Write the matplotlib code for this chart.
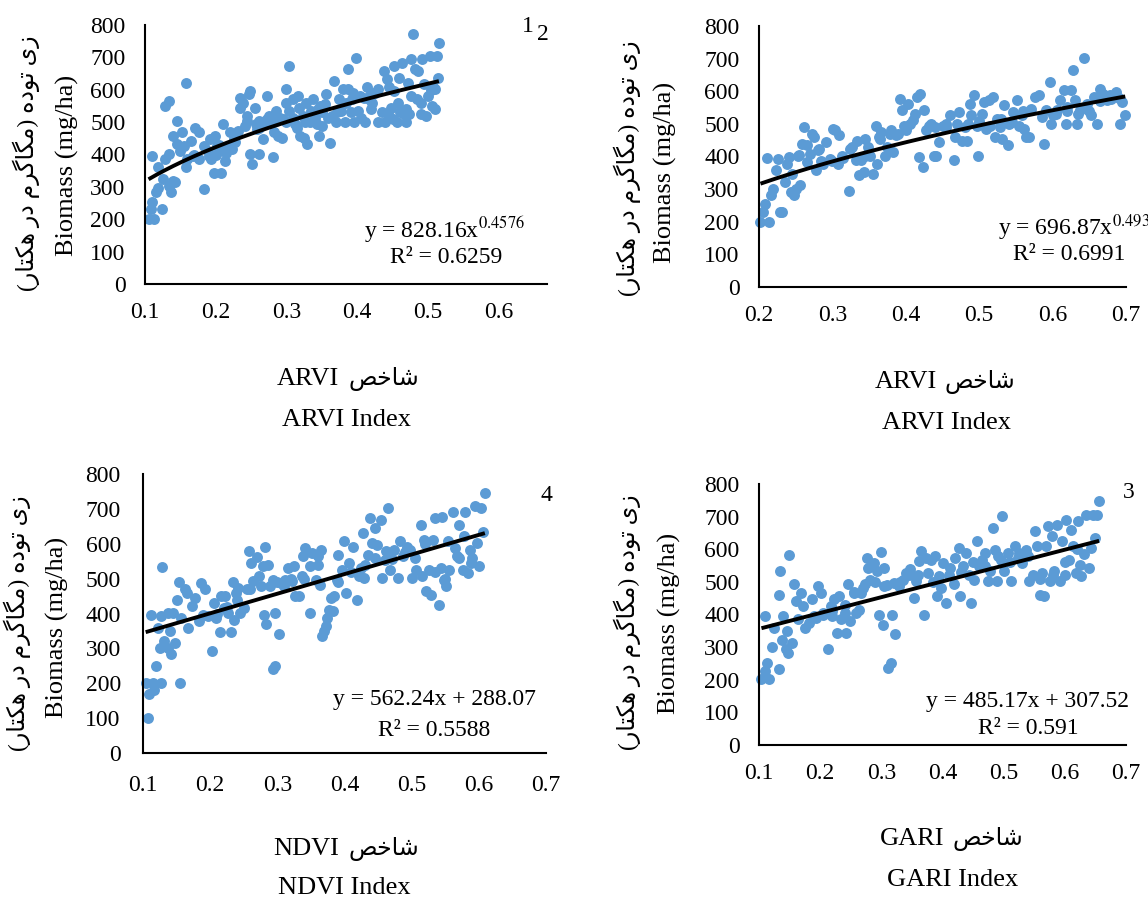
import numpy as np
import matplotlib
matplotlib.use("Agg")
import matplotlib.pyplot as plt

# ---------------- data ----------------
arvi1_x = [0.105, 0.113, 0.108, 0.110, 0.116, 0.118, 0.124, 0.110, 0.118, 0.126, 0.129, 0.134, 0.134, 0.137,
           0.139, 0.142, 0.129, 0.134, 0.139, 0.145, 0.145, 0.150, 0.152, 0.155, 0.158, 0.158, 0.160, 0.165,
           0.168, 0.171, 0.176, 0.176, 0.184, 0.184, 0.189, 0.192, 0.194, 0.197, 0.199, 0.202, 0.207, 0.210,
           0.213, 0.215, 0.218, 0.223, 0.226, 0.231, 0.234, 0.235, 0.239, 0.241, 0.244, 0.247, 0.249, 0.249,
           0.252, 0.255, 0.257, 0.262, 0.262, 0.267, 0.273, 0.275, 0.281, 0.283, 0.286, 0.288, 0.294, 0.296,
           0.299, 0.299, 0.304, 0.304, 0.309, 0.312, 0.315, 0.317, 0.320, 0.323, 0.325, 0.328, 0.330, 0.333,
           0.335, 0.338, 0.343, 0.346, 0.348, 0.351, 0.356, 0.359, 0.362, 0.367, 0.370, 0.375, 0.377, 0.380,
           0.383, 0.388, 0.388, 0.391, 0.393, 0.396, 0.398, 0.401, 0.404, 0.406, 0.412, 0.414, 0.417, 0.422,
           0.425, 0.430, 0.430, 0.435, 0.438, 0.440, 0.443, 0.446, 0.448, 0.451, 0.453, 0.456, 0.459, 0.461,
           0.464, 0.466, 0.469, 0.472, 0.474, 0.477, 0.477, 0.480, 0.482, 0.485, 0.487, 0.490, 0.492, 0.495,
           0.498, 0.500, 0.503, 0.506, 0.508, 0.511, 0.514, 0.515, 0.516, 0.511, 0.262, 0.273, 0.281, 0.291,
           0.309, 0.340, 0.351, 0.365, 0.420, 0.452, 0.200, 0.205, 0.220, 0.228, 0.245, 0.258, 0.268, 0.285,
           0.300, 0.318, 0.327, 0.345, 0.355, 0.372, 0.385, 0.395, 0.410, 0.420, 0.445, 0.458, 0.470, 0.490,
           0.505, 0.170, 0.190, 0.210]
arvi1_y = [200, 200, 231, 252, 283, 298, 231, 396, 360, 324, 550, 566, 303, 283,
           319, 314, 386, 401, 458, 504, 432, 411, 468, 427, 622, 360, 386, 442,
           396, 483, 468, 386, 293, 427, 411, 447, 386, 344, 458, 427, 344, 494,
           380, 406, 427, 416, 447, 473, 576, 545, 560, 488, 504, 586, 596, 401,
           370, 545, 494, 504, 401, 447, 581, 519, 391, 468, 535, 458, 452, 509,
           560, 601, 673, 535, 571, 494, 483, 581, 458, 519, 452, 560, 432, 499,
           535, 571, 494, 458, 550, 530, 586, 514, 437, 627, 499, 571, 535, 601,
           499, 663, 601, 530, 571, 499, 699, 535, 581, 514, 499, 607, 571, 560,
           591, 601, 499, 530, 658, 499, 632, 607, 545, 509, 673, 499, 637, 530,
           684, 525, 499, 622, 525, 694, 581, 771, 663, 571, 658, 525, 694, 617,
           519, 581, 704, 550, 607, 540, 704, 637, 745, 601, 483, 509, 499, 514,
           514, 514, 488, 520, 590, 595, 400, 430, 470, 440, 520, 480, 500, 505,
           500, 545, 500, 540, 555, 530, 560, 590, 575, 540, 520, 560, 540, 560,
           600, 400, 395, 415]

arvi2_x = [0.202, 0.213, 0.205, 0.208, 0.216, 0.219, 0.211, 0.223, 0.226, 0.228, 0.231, 0.236, 0.238, 0.241,
           0.243, 0.248, 0.250, 0.253, 0.256, 0.245, 0.258, 0.261, 0.265, 0.266, 0.270, 0.272, 0.275, 0.277,
           0.280, 0.282, 0.287, 0.291, 0.297, 0.301, 0.304, 0.308, 0.309, 0.313, 0.322, 0.324, 0.327, 0.332,
           0.333, 0.336, 0.339, 0.343, 0.344, 0.349, 0.351, 0.355, 0.359, 0.361, 0.364, 0.366, 0.371, 0.374,
           0.378, 0.382, 0.386, 0.390, 0.392, 0.395, 0.398, 0.403, 0.406, 0.410, 0.413, 0.415, 0.418, 0.420,
           0.423, 0.425, 0.428, 0.431, 0.435, 0.438, 0.441, 0.445, 0.450, 0.455, 0.460, 0.465, 0.467, 0.472,
           0.476, 0.480, 0.484, 0.487, 0.489, 0.493, 0.497, 0.499, 0.504, 0.507, 0.509, 0.514, 0.519, 0.521,
           0.524, 0.529, 0.531, 0.534, 0.539, 0.541, 0.546, 0.551, 0.554, 0.558, 0.561, 0.564, 0.568, 0.571,
           0.576, 0.581, 0.588, 0.591, 0.596, 0.598, 0.600, 0.606, 0.610, 0.615, 0.618, 0.620, 0.625, 0.628,
           0.630, 0.633, 0.637, 0.643, 0.647, 0.652, 0.657, 0.661, 0.664, 0.669, 0.674, 0.678, 0.686, 0.692,
           0.694, 0.699, 0.255, 0.285, 0.300, 0.315, 0.345, 0.365, 0.380, 0.400, 0.440, 0.455, 0.470, 0.485,
           0.500, 0.515, 0.530, 0.545, 0.560, 0.585, 0.605, 0.620, 0.635, 0.650, 0.665, 0.680, 0.690]
arvi2_y = [199, 199, 230, 253, 281, 301, 395, 358, 393, 230, 230, 322, 378, 398,
           291, 281, 301, 403, 312, 347, 439, 490, 434, 383, 409, 470, 460, 358,
           419, 424, 378, 444, 393, 485, 480, 378, 465, 403, 293, 424, 429, 388,
           449, 342, 388, 352, 455, 429, 403, 347, 492, 378, 460, 475, 403, 429,
           470, 414, 465, 470, 577, 541, 492, 562, 500, 511, 531, 582, 398, 592,
           368, 541, 480, 495, 500, 403, 403, 444, 495, 500, 526, 388, 460, 536,
           449, 490, 449, 562, 526, 587, 495, 400, 531, 567, 485, 572, 582, 460,
           516, 490, 454, 557, 434, 500, 536, 572, 495, 526, 485, 460, 460, 546,
           582, 587, 439, 541, 628, 500, 526, 541, 572, 603, 500, 552, 603, 664,
           572, 500, 541, 703, 562, 526, 582, 500, 608, 592, 572, 587, 597, 500,
           567, 526, 405, 385, 385, 395, 400, 455, 480, 480, 490, 490, 500, 500,
           510, 495, 515, 505, 540, 520, 530, 540, 530, 540, 570, 575, 580]

ndvi_x = [0.107, 0.104, 0.109, 0.115, 0.117, 0.120, 0.127, 0.155, 0.126, 0.131, 0.137, 0.142, 0.148, 0.112,
          0.122, 0.127, 0.129, 0.137, 0.140, 0.145, 0.151, 0.153, 0.156, 0.162, 0.165, 0.167, 0.173, 0.177,
          0.184, 0.187, 0.192, 0.197, 0.202, 0.205, 0.209, 0.214, 0.216, 0.220, 0.222, 0.227, 0.231, 0.234,
          0.235, 0.239, 0.242, 0.245, 0.250, 0.255, 0.258, 0.261, 0.264, 0.269, 0.272, 0.278, 0.280, 0.282,
          0.283, 0.286, 0.289, 0.294, 0.297, 0.294, 0.297, 0.303, 0.305, 0.311, 0.316, 0.322, 0.325, 0.327,
          0.333, 0.336, 0.338, 0.341, 0.348, 0.349, 0.352, 0.358, 0.360, 0.363, 0.365, 0.367, 0.370, 0.373,
          0.374, 0.377, 0.380, 0.383, 0.385, 0.389, 0.391, 0.396, 0.399, 0.402, 0.407, 0.413, 0.418, 0.421,
          0.424, 0.427, 0.429, 0.435, 0.438, 0.441, 0.446, 0.449, 0.454, 0.456, 0.460, 0.462, 0.465, 0.468,
          0.474, 0.479, 0.482, 0.487, 0.493, 0.498, 0.501, 0.507, 0.514, 0.515, 0.518, 0.521, 0.526, 0.529,
          0.532, 0.534, 0.540, 0.543, 0.545, 0.548, 0.551, 0.554, 0.556, 0.562, 0.565, 0.567, 0.570, 0.576,
          0.578, 0.580, 0.584, 0.587, 0.589, 0.595, 0.598, 0.600, 0.603, 0.606, 0.609, 0.190, 0.210, 0.225,
          0.240, 0.260, 0.275, 0.300, 0.310, 0.320, 0.340, 0.360, 0.390, 0.410, 0.430, 0.445, 0.470, 0.490,
          0.505, 0.520, 0.535, 0.550, 0.570, 0.590]
ndvi_y = [99, 202, 169, 202, 181, 250, 202, 202, 300, 321, 300, 283, 316, 397,
          359, 392, 533, 402, 350, 402, 440, 490, 388, 469, 459, 359, 421, 445,
          378, 488, 469, 392, 292, 430, 388, 347, 450, 416, 450, 402, 347, 490,
          381, 459, 473, 402, 416, 469, 578, 545, 492, 562, 507, 535, 397, 590,
          369, 540, 478, 240, 250, 497, 402, 340, 488, 497, 530, 492, 535, 450,
          450, 507, 564, 588, 402, 535, 573, 497, 564, 483, 583, 335, 350, 364,
          388, 411, 445, 407, 450, 497, 569, 526, 607, 459, 545, 592, 438, 507,
          530, 630, 502, 569, 673, 602, 645, 597, 668, 502, 554, 578, 702, 526,
          583, 502, 607, 564, 592, 583, 502, 526, 654, 507, 611, 464, 526, 454,
          611, 673, 423, 530, 678, 497, 478, 607, 526, 692, 588, 564, 654, 526,
          621, 692, 516, 583, 545, 707, 602, 535, 702, 635, 745, 395, 400, 420,
          440, 470, 480, 490, 480, 500, 500, 540, 490, 520, 540, 560, 555, 575,
          560, 600, 520, 500, 560, 560]

gari_x = [0.104, 0.116, 0.110, 0.113, 0.133, 0.122, 0.137, 0.144, 0.148, 0.154, 0.110, 0.125, 0.133, 0.134,
          0.140, 0.146, 0.149, 0.157, 0.160, 0.163, 0.168, 0.172, 0.175, 0.181, 0.187, 0.193, 0.196, 0.201,
          0.205, 0.212, 0.217, 0.220, 0.222, 0.227, 0.231, 0.234, 0.240, 0.243, 0.246, 0.249, 0.255, 0.258,
          0.264, 0.267, 0.273, 0.276, 0.279, 0.282, 0.288, 0.293, 0.296, 0.299, 0.302, 0.304, 0.305, 0.311,
          0.315, 0.317, 0.320, 0.323, 0.329, 0.335, 0.341, 0.347, 0.353, 0.356, 0.362, 0.365, 0.370, 0.373,
          0.376, 0.382, 0.388, 0.391, 0.394, 0.397, 0.400, 0.406, 0.412, 0.418, 0.421, 0.427, 0.428, 0.433,
          0.438, 0.444, 0.447, 0.452, 0.456, 0.459, 0.465, 0.470, 0.474, 0.477, 0.483, 0.486, 0.489, 0.495,
          0.498, 0.501, 0.507, 0.512, 0.518, 0.524, 0.530, 0.536, 0.542, 0.548, 0.551, 0.555, 0.559, 0.563,
          0.566, 0.569, 0.573, 0.576, 0.579, 0.583, 0.588, 0.592, 0.595, 0.600, 0.602, 0.607, 0.610, 0.613,
          0.618, 0.622, 0.625, 0.627, 0.632, 0.635, 0.640, 0.643, 0.646, 0.649, 0.652, 0.656, 0.190, 0.205,
          0.220, 0.240, 0.255, 0.270, 0.290, 0.310, 0.330, 0.345, 0.360, 0.385, 0.410, 0.430, 0.450, 0.470,
          0.490, 0.510, 0.525, 0.540, 0.560, 0.580, 0.600, 0.620]
gari_y = [201, 201, 227, 252, 232, 300, 323, 295, 283, 313, 395, 359, 461, 533,
          395, 349, 581, 492, 441, 385, 466, 426, 359, 374, 446, 390, 487, 466,
          405, 293, 426, 395, 446, 344, 456, 385, 405, 344, 492, 380, 466, 405,
          415, 466, 492, 573, 543, 507, 559, 533, 400, 591, 369, 543, 487, 237,
          252, 400, 497, 339, 487, 507, 528, 538, 451, 502, 563, 594, 400, 573,
          528, 568, 579, 456, 517, 482, 558, 436, 543, 492, 573, 604, 456, 548,
          589, 522, 436, 507, 624, 548, 568, 589, 502, 533, 665, 599, 502, 568,
          701, 533, 589, 502, 609, 573, 558, 599, 502, 522, 655, 609, 461, 528,
          456, 609, 670, 502, 640, 533, 675, 502, 624, 522, 691, 568, 660, 609,
          528, 686, 553, 517, 584, 706, 543, 604, 706, 635, 706, 747, 395, 400,
          410, 430, 470, 480, 500, 490, 500, 520, 520, 500, 520, 530, 560, 550,
          580, 560, 590, 580, 510, 520, 560, 600]

# trend line coefficients printed in the reference (panel 1 line is refit from its points)
arvi2_fit = (696.87, 0.493)
ndvi_fit = (562.24, 288.07)
gari_fit = (485.17, 307.52)

yticks = [0, 100, 200, 300, 400, 500, 600, 700, 800]

# ---------------- persian shaping (matplotlib does no arabic joining) ----------------
AR_FORMS = {  # isolated, final, initial, medial
    "\u0627": ("\uFE8D", "\uFE8E", "", ""),
    "\u062A": ("\uFE95", "\uFE96", "\uFE97", "\uFE98"),
    "\u062E": ("\uFEA5", "\uFEA6", "\uFEA7", "\uFEA8"),
    "\u062F": ("\uFEA9", "\uFEAA", "", ""),
    "\u0631": ("\uFEAD", "\uFEAE", "", ""),
    "\u0632": ("\uFEAF", "\uFEB0", "", ""),
    "\u0634": ("\uFEB5", "\uFEB6", "\uFEB7", "\uFEB8"),
    "\u0635": ("\uFEB9", "\uFEBA", "\uFEBB", "\uFEBC"),
    "\u0645": ("\uFEE1", "\uFEE2", "\uFEE3", "\uFEE4"),
    "\u0647": ("\uFEE9", "\uFEEA", "\uFEEB", "\uFEEC"),
    "\u0648": ("\uFEED", "\uFEEE", "", ""),
    "\u06A9": ("\uFB8E", "\uFB8F", "\uFB90", "\uFB91"),
    "\u06AF": ("\uFB92", "\uFB93", "\uFB94", "\uFB95"),
    "\u06CC": ("\uFBFC", "\uFBFD", "\uFBFE", "\uFBFF"),
}
MIRROR = {"(": ")", ")": "("}


def rtl(text):
    out = []
    for i, ch in enumerate(text):
        if ch not in AR_FORMS:
            out.append(ch)
            continue
        iso, fin, ini, med = AR_FORMS[ch]
        prev_j = i > 0 and text[i - 1] in AR_FORMS and AR_FORMS[text[i - 1]][2] != ""
        next_j = i < len(text) - 1 and text[i + 1] in AR_FORMS and ini != ""
        if prev_j and next_j:
            out.append(med)
        elif prev_j:
            out.append(fin)
        elif next_j:
            out.append(ini)
        else:
            out.append(iso)
    return "".join(MIRROR.get(c, c) for c in reversed(out))


fa_biomass = rtl("\u0632\u06CC \u062A\u0648\u062F\u0647 (\u0645\u06AF\u0627\u06AF\u0631\u0645 \u062F\u0631 \u0647\u06A9\u062A\u0627\u0631)")
fa_index = rtl("\u0634\u0627\u062E\u0635")

# ---------------- figure ----------------
plt.rcParams["font.family"] = ["Liberation Serif", "DejaVu Sans"]
plt.rcParams["mathtext.fontset"] = "stix"

W, H = 1148, 899
fig = plt.figure(figsize=(W / 100, H / 100), dpi=100)


def fx(px):
    return px / W


def fy(py):
    return 1 - py / H


def trend_power(a, b, x):
    return a * np.power(x, b)


def trend_linear(a, b, x):
    return a * x + b


# panel 1 power fit from its points
c1 = np.polyfit(np.log(arvi1_x), np.log(arvi1_y), 1)
arvi1_fit = (np.exp(c1[1]), c1[0])

panels = [
    {"x": arvi1_x, "y": arvi1_y, "box": (145, 25, 547, 284), "xlim": (0.1, 0.669),
     "xticks": [0.1, 0.2, 0.3, 0.4, 0.5, 0.6], "fit": arvi1_fit, "kind": "power",
     "eq": "y = 828.16x$^{0.4576}$", "r2": "R\u00b2 = 0.6259", "eq_xy": (444, 230), "r2_xy": (446, 258),
     "eq_ha": "center", "name": "ARVI", "fa_y": (26, 163), "en_y": (67, 165),
     "xl1": (339, 348, 385), "xl2": (346, 420), "num": "1", "num_xy": (528, 27), "xpad": 13, "ypad": 14},
    {"x": arvi2_x, "y": arvi2_y, "box": (759, 26, 1126, 287), "xlim": (0.2, 0.7),
     "xticks": [0.2, 0.3, 0.4, 0.5, 0.6, 0.7], "fit": arvi2_fit, "kind": "power",
     "eq": "y = 696.87x$^{0.493}$", "r2": "R\u00b2 = 0.6991", "eq_xy": (1150, 228), "r2_xy": (1069, 255),
     "eq_ha": "right", "name": "ARVI", "fa_y": (627, 168), "en_y": (665, 172),
     "xl1": (937, 944, 388), "xl2": (946, 423), "num": None, "num_xy": None, "xpad": 13, "ypad": 14},
    {"x": ndvi_x, "y": ndvi_y, "box": (143, 474, 546, 753), "xlim": (0.1, 0.7),
     "xticks": [0.1, 0.2, 0.3, 0.4, 0.5, 0.6, 0.7], "fit": ndvi_fit, "kind": "linear",
     "eq": "y = 562.24x + 288.07", "r2": "R\u00b2 = 0.5588", "eq_xy": (434, 700), "r2_xy": (434, 730),
     "eq_ha": "center", "name": "NDVI", "fa_y": (17, 623), "en_y": (57, 627),
     "xl1": (339, 348, 855), "xl2": (344, 888), "num": "4", "num_xy": (546, 495), "xpad": 16, "ypad": 16},
    {"x": gari_x, "y": gari_y, "box": (759, 484, 1126, 745), "xlim": (0.1, 0.7),
     "xticks": [0.1, 0.2, 0.3, 0.4, 0.5, 0.6, 0.7], "fit": gari_fit, "kind": "linear",
     "eq": "y = 485.17x + 307.52", "r2": "R\u00b2 = 0.591", "eq_xy": (1028, 702), "r2_xy": (1028, 728),
     "eq_ha": "center", "name": "GARI", "fa_y": (627, 622), "en_y": (669, 623),
     "xl1": (944, 953, 845), "xl2": (953, 880), "num": "3", "num_xy": (1129, 492), "xpad": 13, "ypad": 14},
]

for p in panels:
    l, t, r, b = p["box"]
    ax = fig.add_axes([fx(l), fy(b), (r - l) / W, (b - t) / H])
    ax.scatter(p["x"], p["y"], s=62, color="#5B9BD5", linewidths=0, zorder=2, clip_on=False)
    xs = np.linspace(min(p["x"]), max(p["x"]), 200)
    if p["kind"] == "power":
        ys = trend_power(*p["fit"], xs)
    else:
        ys = trend_linear(*p["fit"], xs)
    ax.plot(xs, ys, color="black", lw=2.8, zorder=3, solid_capstyle="butt")

    ax.set_xlim(*p["xlim"])
    ax.set_ylim(0, 800)
    ax.set_xticks(p["xticks"], labels=[f"{v:.1f}" for v in p["xticks"]])
    ax.set_yticks(yticks)
    ax.tick_params(length=0, labelsize=17)
    ax.tick_params(axis="x", pad=p["xpad"])
    ax.tick_params(axis="y", pad=p["ypad"])
    for side in ["top", "right"]:
        ax.spines[side].set_visible(False)
    for side in ["left", "bottom"]:
        ax.spines[side].set_linewidth(1.5)
        ax.spines[side].set_color("black")
    ax.patch.set_alpha(0)

    fig.text(fx(p["eq_xy"][0]), fy(p["eq_xy"][1]), p["eq"], fontsize=17,
             ha=p["eq_ha"], va="center")
    fig.text(fx(p["r2_xy"][0]), fy(p["r2_xy"][1]), p["r2"], fontsize=17,
             ha="center", va="center")
    fig.text(fx(p["fa_y"][0]), fy(p["fa_y"][1]), fa_biomass, fontsize=17,
             rotation=90, ha="center", va="center")
    fig.text(fx(p["en_y"][0]), fy(p["en_y"][1]), "Biomass (mg/ha)", fontsize=19,
             rotation=90, ha="center", va="center")
    lat_r, fa_l, base = p["xl1"]
    fig.text(fx(lat_r), fy(base), p["name"], fontsize=19, ha="right", va="baseline")
    fig.text(fx(fa_l), fy(base), fa_index, fontsize=17, ha="left", va="baseline")
    fig.text(fx(p["xl2"][0]), fy(p["xl2"][1]), p["name"] + " Index", fontsize=19,
             ha="center", va="center")
    if p["num"]:
        fig.text(fx(p["num_xy"][0]), fy(p["num_xy"][1]), p["num"], fontsize=17,
                 ha="center", va="center")

# subscript-like "2" next to the panel number 1
fig.text(fx(543), fy(34), "2", fontsize=17, ha="center", va="center")

fig.savefig("out.png", dpi=100)
